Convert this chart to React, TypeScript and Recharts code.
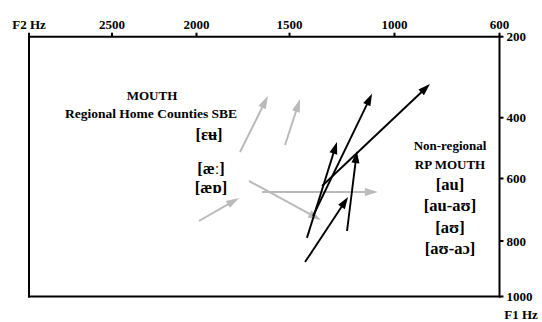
import React from 'react';
import { ScatterChart, Scatter, XAxis, YAxis } from 'recharts';

// Regional Home Counties SBE MOUTH glides (grey): onset -> offset, Hz
const sbeOnsetF2 = [1766, 1524, 1987, 1718, 1648];
const sbeOnsetF1 = [513, 490, 736, 608, 643];
const sbeOffsetF2 = [1616, 1450, 1771, 1350, 1079];
const sbeOffsetF1 = [346, 354, 662, 733, 643];

// Non-regional RP MOUTH glides (black): onset -> offset, Hz
const rpOnsetF2 = [1417, 1388, 1345, 1226, 1426];
const rpOnsetF1 = [790, 720, 624, 768, 876];
const rpOffsetF2 = [1274, 1107, 865, 1179, 1221];
const rpOffsetF1 = [480, 341, 317, 510, 659];

const f2Ticks = [3000, 2500, 2000, 1500, 1000, 600];
const f1Ticks = [200, 400, 600, 800, 1000];

// the printed axes are not linear: where each tick sits along the axis (0..1)
const f2TickSpacing = [0, 0.1764, 0.356, 0.5537, 0.7768, 1];
const f1TickSpacing = [0, 0.3118, 0.5458, 0.7864, 1];

const GREY = '#bababa';
const INK = '#000';
const SERIF = '"Liberation Serif", "Times New Roman", serif';

// d3-like piecewise scale that follows the printed tick spacing
function warpedScale(stops: number[], spacing: number[]): any {
  let dom: number[] = [Math.min(...stops), Math.max(...stops)];
  let rng: number[] = [0, 1];
  const n = stops.length;
  const warp = (v: number) => {
    let i = -1;
    for (let k = 0; k < n - 1; k++) {
      if ((v - stops[k]) * (v - stops[k + 1]) <= 0) { i = k; break; }
    }
    if (i < 0) i = (v - stops[0]) * (stops[1] - stops[0]) < 0 ? 0 : n - 2;
    const t = (v - stops[i]) / (stops[i + 1] - stops[i]);
    return spacing[i] + t * (spacing[i + 1] - spacing[i]);
  };
  const unwarp = (w: number) => {
    let i = -1;
    for (let k = 0; k < n - 1; k++) {
      if ((w - spacing[k]) * (w - spacing[k + 1]) <= 0) { i = k; break; }
    }
    if (i < 0) i = w < spacing[0] ? 0 : n - 2;
    const t = (w - spacing[i]) / (spacing[i + 1] - spacing[i]);
    return stops[i] + t * (stops[i + 1] - stops[i]);
  };
  const scale: any = (v: number) => {
    const w0 = warp(dom[0]);
    const w1 = warp(dom[dom.length - 1]);
    return rng[0] + ((warp(v) - w0) / (w1 - w0)) * (rng[rng.length - 1] - rng[0]);
  };
  scale.domain = (d?: number[]) => {
    if (d === undefined) return dom.slice();
    dom = d.map(Number);
    return scale;
  };
  scale.range = (r?: number[]) => {
    if (r === undefined) return rng.slice();
    rng = r.map(Number);
    return scale;
  };
  scale.invert = (px: number) => {
    const w0 = warp(dom[0]);
    const w1 = warp(dom[dom.length - 1]);
    const f = (px - rng[0]) / (rng[rng.length - 1] - rng[0]);
    return unwarp(w0 + f * (w1 - w0));
  };
  scale.ticks = () => stops.filter((s) => s >= Math.min(...dom) && s <= Math.max(...dom));
  scale.tickFormat = () => (v: number) => String(v);
  scale.nice = () => scale;
  scale.clamp = () => scale;
  scale.copy = () => warpedScale(stops, spacing).domain(dom).range(rng);
  return scale;
}

const f2Scale = warpedScale(f2Ticks, f2TickSpacing);
const f1Scale = warpedScale(f1Ticks, f1TickSpacing);

const glides = (f2a: number[], f1a: number[], f2b: number[], f1b: number[]) =>
  f2a.map((_, i) => [
    { f2: f2a[i], f1: f1a[i] },
    { f2: f2b[i], f1: f1b[i] },
  ]);

const sbeGlides = glides(sbeOnsetF2, sbeOnsetF1, sbeOffsetF2, sbeOffsetF1);
const rpGlides = glides(rpOnsetF2, rpOnsetF1, rpOffsetF2, rpOffsetF1);

const arrow = (color: string, width: number, head: number, half: number) => (p: any) => {
  const pts = p.points || [];
  if (pts.length < 2) return <g />;
  const a = pts[0];
  const b = pts[pts.length - 1];
  const ang = Math.atan2(b.y - a.y, b.x - a.x);
  const c = Math.cos(ang);
  const s = Math.sin(ang);
  const bx = b.x - head * c;
  const by = b.y - head * s;
  return (
    <g>
      <line x1={a.x} y1={a.y} x2={bx + 2 * c} y2={by + 2 * s} stroke={color} strokeWidth={width} />
      <polygon
        points={`${b.x},${b.y} ${bx - half * s},${by + half * c} ${bx + half * s},${by - half * c}`}
        fill={color}
      />
    </g>
  );
};

const noDot = () => <g />;

const axisLine = { stroke: INK, strokeWidth: 2, strokeLinecap: 'square' as const };
const tickLine = { stroke: INK, strokeWidth: 2 };
const tickText = { fill: INK, fontSize: 13, fontWeight: 700, fontFamily: SERIF };
const label = { fontFamily: SERIF, fontWeight: 700, fill: INK, textAnchor: 'middle' as const };

export default function App() {
  return (
    <div style={{ width: 542, height: 322, background: '#fff' }}>
      <style>{'body{margin:0;overflow:hidden;background:#fff}'}</style>
      <ScatterChart width={542} height={322} margin={{ top: 16.7, right: 12.5, bottom: 15.5, left: 19 }}>
        <XAxis
          xAxisId="top"
          orientation="top"
          type="number"
          dataKey="f2"
          domain={[600, 3000]}
          allowDataOverflow
          reversed
          scale={f2Scale}
          ticks={f2Ticks}
          interval={0}
          tickFormatter={(v: number) => (v === 3000 ? 'F2 Hz' : String(v))}
          height={20}
          tickSize={4}
          tickMargin={4}
          axisLine={axisLine}
          tickLine={tickLine}
          tick={tickText}
        />
        <XAxis
          xAxisId="bottom"
          orientation="bottom"
          type="number"
          dataKey="f2"
          domain={[600, 3000]}
          allowDataOverflow
          reversed
          scale={f2Scale}
          ticks={f2Ticks}
          interval={0}
          height={10}
          tickSize={4}
          tick={false}
          axisLine={axisLine}
          tickLine={tickLine}
        />
        <YAxis
          yAxisId="left"
          orientation="left"
          type="number"
          dataKey="f1"
          domain={[200, 1000]}
          allowDataOverflow
          reversed
          scale={f1Scale}
          ticks={f1Ticks}
          interval={0}
          width={10}
          tickSize={4}
          tick={false}
          axisLine={axisLine}
          tickLine={tickLine}
        />
        <YAxis
          yAxisId="right"
          orientation="right"
          type="number"
          dataKey="f1"
          domain={[200, 1000]}
          allowDataOverflow
          reversed
          scale={f1Scale}
          ticks={f1Ticks}
          interval={0}
          width={30}
          tickSize={4}
          tickMargin={3}
          axisLine={axisLine}
          tickLine={tickLine}
          tick={tickText}
        />
        {sbeGlides.map((d, i) => (
          <Scatter
            key={'sbe' + i}
            data={d}
            xAxisId="top"
            yAxisId="right"
            fill={GREY}
            line={arrow(GREY, 2, 13, 4)}
            shape={noDot}
            isAnimationActive={false}
          />
        ))}
        {rpGlides.map((d, i) => (
          <Scatter
            key={'rp' + i}
            data={d}
            xAxisId="top"
            yAxisId="right"
            fill={INK}
            line={arrow(INK, 1.9, 12, 4)}
            shape={noDot}
            isAnimationActive={false}
          />
        ))}
        <text x={152} y={99.5} fontSize={13} {...label}>MOUTH</text>
        <text x={151} y={117.5} fontSize={13.5} {...label}>Regional Home Counties SBE</text>
        <text x={209} y={140} fontSize={16.5} {...label}>[ɛʉ]</text>
        <text x={211} y={174} fontSize={16.5} {...label}>[æː]</text>
        <text x={211} y={193} fontSize={16.5} {...label}>[æɒ]</text>
        <text x={450} y={150} fontSize={13} {...label}>Non-regional</text>
        <text x={450} y={168.5} fontSize={13} {...label}>RP MOUTH</text>
        <text x={450} y={190} fontSize={16.5} {...label}>[au]</text>
        <text x={450} y={211} fontSize={16.5} {...label}>[au-aʊ]</text>
        <text x={450} y={232.5} fontSize={16.5} {...label}>[aʊ]</text>
        <text x={450} y={253.5} fontSize={16.5} {...label}>[aʊ-aɔ]</text>
        <text x={521} y={319} fontSize={13} {...label}>F1 Hz</text>
      </ScatterChart>
    </div>
  );
}
